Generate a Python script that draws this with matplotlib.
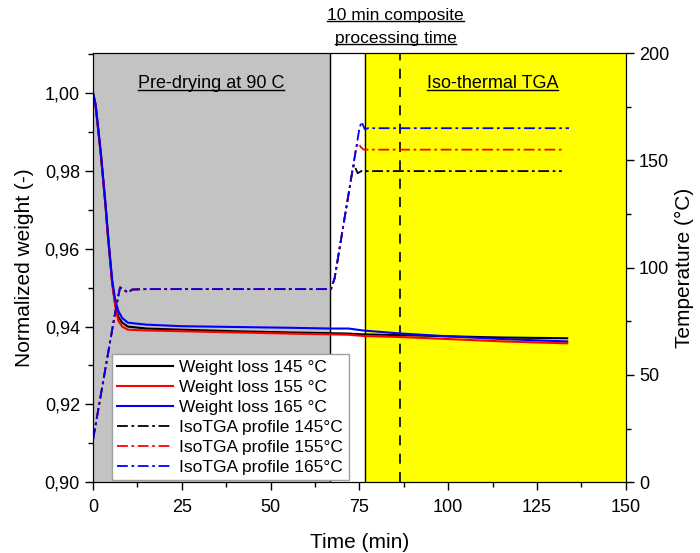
import numpy as np
import matplotlib
matplotlib.use("Agg")
import matplotlib.pyplot as plt
from matplotlib.lines import Line2D
from matplotlib.ticker import MultipleLocator, FuncFormatter

plt.rcParams['font.family'] = ['Liberation Sans', 'DejaVu Sans']

# weight loss curves (time in min, normalized weight)
t_w = [0, 0.7, 1.5, 2.2, 2.9, 3.5, 4.1, 4.7, 5.4, 6.2, 7.1, 8.2, 9.8, 15, 25, 40, 55, 67, 72, 76, 87, 100, 115, 133.5]
w145 = [1.000, 0.997, 0.990, 0.984, 0.977, 0.971, 0.964, 0.958, 0.951, 0.946, 0.9425, 0.9410, 0.9400, 0.9395, 0.9392, 0.9388, 0.9385, 0.9383, 0.9382, 0.9380, 0.9378, 0.9375, 0.9372, 0.9370]
w155 = [1.000, 0.997, 0.990, 0.984, 0.977, 0.971, 0.964, 0.958, 0.951, 0.9455, 0.9415, 0.9400, 0.9392, 0.9390, 0.9388, 0.9385, 0.9382, 0.9380, 0.9379, 0.9376, 0.9373, 0.9368, 0.9362, 0.9357]
w165 = [1.000, 0.997, 0.9905, 0.9845, 0.9775, 0.9715, 0.9648, 0.9585, 0.9518, 0.947, 0.9440, 0.9422, 0.9410, 0.9405, 0.9401, 0.9399, 0.9397, 0.9395, 0.9395, 0.9390, 0.9382, 0.9375, 0.9368, 0.9362]

# temperature profiles (time in min, deg C)
t_ramp = [0, 2, 4, 6, 7, 7.6, 8.5, 9.8, 11, 15, 40, 67, 68, 70, 72, 73]
T_ramp = [20, 39, 58, 77, 86, 90.8, 90, 88.3, 89.8, 90, 90, 90, 95, 115, 135, 145]
t145 = t_ramp + [73.5, 74.5, 75.5, 90, 110, 132]
T145 = T_ramp + [148, 144, 145, 145, 145, 145]
t155 = t_ramp + [74, 74.6, 75.5, 76.2, 90, 110, 132.5]
T155 = T_ramp + [155, 158, 156, 155, 155, 155, 155]
t165 = t_ramp + [74, 75, 75.6, 76.5, 77.5, 90, 110, 134]
T165 = T_ramp + [155, 165, 168, 164.5, 165, 165, 165, 165]

fig = plt.figure(figsize=(7, 5.53), dpi=100)
ax = fig.add_axes([0.133, 0.128, 0.761, 0.776])
ax2 = ax.twinx()

ax.axvspan(0, 66.8, color='#c3c3c3', zorder=0)
ax.axvspan(76.6, 150, color='#ffff00', zorder=0)
ax.axvline(66.8, color='black', lw=1)
ax.axvline(76.6, color='black', lw=1)
ax.axvline(86.5, color='black', lw=1.2, ls=(0, (6, 5)))

# weight curves on ax (left axis), temperature curves on ax2
h1, = ax.plot(t_w, w145, color='black', lw=1.5, label='Weight loss 145 °C')
h2, = ax.plot(t_w, w155, color='red', lw=1.5, label='Weight loss 155 °C')
h3, = ax.plot(t_w, w165, color='blue', lw=1.5, label='Weight loss 165 °C')
ls = (0, (6, 2, 1.5, 2))
h4, = ax2.plot(t145, T145, color='black', lw=1.3, ls=ls, label='IsoTGA profile 145°C')
h5, = ax2.plot(t155, T155, color='red', lw=1.3, ls=ls, label='IsoTGA profile 155°C')
h6, = ax2.plot(t165, T165, color='blue', lw=1.3, ls=ls, label='IsoTGA profile 165°C')

ax.set_xlim(0, 150)
ax.set_ylim(0.90, 1.0103)
ax2.set_ylim(0, 200)

ax.xaxis.set_major_locator(MultipleLocator(25))
ax.xaxis.set_minor_locator(MultipleLocator(12.5))
ax.yaxis.set_major_locator(MultipleLocator(0.02))
ax.yaxis.set_minor_locator(MultipleLocator(0.01))
ax.yaxis.set_major_formatter(FuncFormatter(lambda v, p: f"{v:.2f}".replace('.', ',')))
ax2.yaxis.set_major_locator(MultipleLocator(50))
ax2.yaxis.set_minor_locator(MultipleLocator(25))

for a in (ax, ax2):
    a.tick_params(which='major', direction='out', length=6, width=1, labelsize=13)
    a.tick_params(which='minor', direction='out', length=3.5, width=1)
ax.tick_params(axis='x', pad=6)

ax.set_xlabel('Time (min)', fontsize=15, labelpad=12)
ax.set_ylabel('Normalized weight (-)', fontsize=15, labelpad=8)
ax2.set_ylabel('Temperature (°C)', fontsize=15, labelpad=4)

t1 = ax.text(33.2, 1.0025, 'Pre-drying at 90 C', ha='center', va='center', fontsize=13)
t2 = ax.text(112.5, 1.0025, 'Iso-thermal TGA', ha='center', va='center', fontsize=13)
t3 = fig.text(0.565, 0.972, '10 min composite', ha='center', va='center', fontsize=12.5)
t4 = fig.text(0.565, 0.930, 'processing time', ha='center', va='center', fontsize=12.5)

leg = ax2.legend(handles=[h1, h2, h3, h4, h5, h6], loc='lower left',
                 bbox_to_anchor=(0.035, 0.005), fontsize=12.5, frameon=True,
                 fancybox=False, edgecolor='#a0a0a0', framealpha=1,
                 labelspacing=0.28, handlelength=3.2, handletextpad=0.4,
                 borderpad=0.3, borderaxespad=0)
leg.get_frame().set_linewidth(1)

# underline the text labels
fig.canvas.draw()
r = fig.canvas.get_renderer()
inv = fig.transFigure.inverted()
for t in (t1, t2, t3, t4):
    bb = t.get_window_extent(r)
    (x0, y0), (x1, _) = inv.transform([(bb.x0, bb.y0 + 2), (bb.x1, bb.y0 + 2)])
    fig.add_artist(Line2D([x0, x1], [y0, y0], color='black', lw=1, transform=fig.transFigure))

fig.savefig('out.png', dpi=100)
